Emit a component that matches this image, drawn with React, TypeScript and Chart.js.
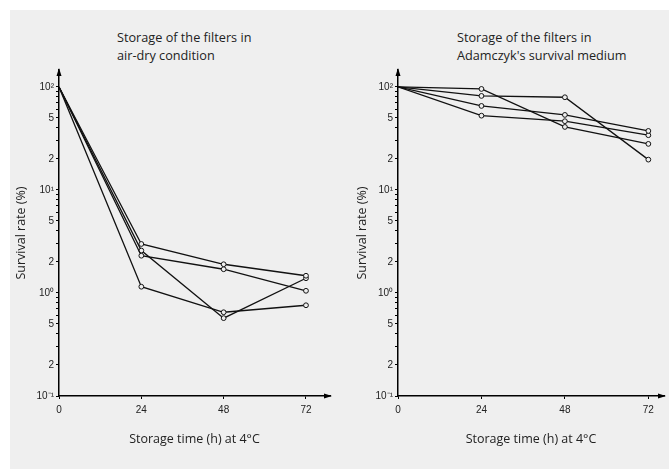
import React, { useEffect, useRef } from "react";
import { Chart, registerables } from "chart.js";

Chart.register(...registerables);

// ---- data ----
const HOURS = [0, 24, 48, 72];
const X_TICKS = [0, 24, 48, 72];

// Air-dry condition (survival rate %)
const AIR_DRY_1 = [100, 2.99, 1.9, 1.47];
const AIR_DRY_2 = [100, 2.3, 1.7, 1.05];
const AIR_DRY_3 = [100, 2.58, 0.57, 1.39];
const AIR_DRY_4 = [100, 1.15, 0.65, 0.76];

// Adamczyk's survival medium (survival rate %)
const MEDIUM_1 = [100, 95.6, 40.9, 28];
const MEDIUM_2 = [100, 81.8, 79.4, 19.7];
const MEDIUM_3 = [100, 65.4, 53.5, 37.4];
const MEDIUM_4 = [100, 52.6, 46.5, 34];

const Y_TICKS = [
  0.1, 0.2, 0.3, 0.4, 0.5, 0.6, 0.7, 0.8, 0.9,
  1, 2, 3, 4, 5, 6, 7, 8, 9,
  10, 20, 30, 40, 50, 60, 70, 80, 90,
  100,
];
const Y_LABEL_VALUES = [0.1, 0.2, 0.5, 1, 2, 5, 10, 20, 50, 100];
const Y_LABEL_TEXTS = ["10⁻¹", "2", "5", "10⁰", "2", "5", "10¹", "2", "5", "10²"];

const LEFT_TITLE = ["Storage of the filters in", "air-dry condition"];
const RIGHT_TITLE = ["Storage of the filters in", "Adamczyk's survival medium"];
const X_TITLE = "Storage time (h) at 4°C";
const Y_TITLE = "Survival rate (%)";

const BG = "#efefef";
const TEXT_FONT = "'Open Sans', 'Noto Sans', sans-serif";
const TICK_FONT = "'Liberation Sans', Arial, sans-serif";

const arrowPlugin = {
  id: "axisArrows",
  afterDraw(chart: any) {
    const { ctx, chartArea } = chart;
    const { left, top, right, bottom } = chartArea;
    ctx.save();
    ctx.fillStyle = "#000";
    ctx.beginPath();
    ctx.moveTo(left, top - 2);
    ctx.lineTo(left - 2.5, top + 6);
    ctx.lineTo(left + 2.5, top + 6);
    ctx.closePath();
    ctx.fill();
    ctx.beginPath();
    ctx.moveTo(right + 2, bottom);
    ctx.lineTo(right - 6, bottom - 2.5);
    ctx.lineTo(right - 6, bottom + 2.5);
    ctx.closePath();
    ctx.fill();
    ctx.restore();
  },
};

function makeDataset(values: number[]) {
  return {
    data: HOURS.map((h, i) => ({ x: h, y: values[i] })),
    borderColor: "#111",
    borderWidth: 1.3,
    pointRadius: HOURS.map((h) => (h === 0 ? 0 : 2.4)),
    pointBorderWidth: 1,
    pointBorderColor: "#111",
    pointBackgroundColor: BG,
    tension: 0,
    fill: false,
  };
}

function makeConfig(series: number[][], xMax: number, yTitlePad: number, rightPad: number): any {
  return {
    type: "line",
    data: { datasets: series.map(makeDataset) },
    plugins: [arrowPlugin],
    options: {
      animation: false,
      responsive: false,
      maintainAspectRatio: false,
      layout: { padding: { top: 70, right: rightPad, left: 0, bottom: 0 } },
      plugins: { legend: { display: false }, tooltip: { enabled: false }, title: { display: false } },
      scales: {
        x: {
          type: "linear",
          min: 0,
          max: xMax,
          afterBuildTicks: (scale: any) => {
            scale.ticks = X_TICKS.map((v) => ({ value: v }));
          },
          afterFit: (scale: any) => {
            scale.height = 73;
          },
          grid: { display: true, drawOnChartArea: false, drawTicks: true, tickLength: 3, color: "#000", lineWidth: 1 },
          border: { display: true, color: "#000", width: 1.5 },
          ticks: {
            autoSkip: false,
            maxRotation: 0,
            padding: 5,
            color: "#222",
            font: { family: TICK_FONT, size: 10 },
            callback: (v: any) => String(v),
          },
          title: {
            display: true,
            text: X_TITLE,
            color: "#222",
            font: { family: TEXT_FONT, size: 12.5 },
            padding: { top: 0, bottom: 22 },
          },
        },
        y: {
          type: "logarithmic",
          min: 0.1,
          max: 146,
          afterBuildTicks: (scale: any) => {
            scale.ticks = Y_TICKS.map((v) => ({ value: v }));
          },
          afterFit: (scale: any) => {
            scale.width = 59;
          },
          grid: { display: true, drawOnChartArea: false, drawTicks: true, tickLength: 3, color: "#000", lineWidth: 1 },
          border: { display: true, color: "#000", width: 1.5 },
          ticks: {
            autoSkip: false,
            padding: 2,
            color: "#222",
            font: { family: TICK_FONT, size: 10 },
            callback: (value: any) => {
              const v = Number(value);
              const i = Y_LABEL_VALUES.findIndex((t) => Math.abs(t - v) / t < 1e-6);
              return i >= 0 ? Y_LABEL_TEXTS[i] : "";
            },
          },
          title: {
            display: true,
            text: Y_TITLE,
            color: "#222",
            font: { family: TEXT_FONT, size: 12.5 },
            padding: { top: yTitlePad, bottom: 0 },
          },
        },
      },
    },
  };
}

function Panel(props: { series: number[][]; xMax: number; left: number; width: number; yTitlePad: number; rightPad: number }) {
  const ref = useRef<HTMLCanvasElement | null>(null);
  useEffect(() => {
    if (!ref.current) return;
    const chart = new Chart(ref.current, makeConfig(props.series, props.xMax, props.yTitlePad, props.rightPad));
    return () => chart.destroy();
  }, []);
  return (
    <canvas
      ref={ref}
      width={props.width}
      height={469}
      style={{ position: "absolute", left: props.left, top: 0, width: props.width, height: 469 }}
    />
  );
}

function Title(props: { lines: string[]; left: number }) {
  return (
    <div
      style={{
        position: "absolute",
        left: props.left,
        top: 28,
        fontFamily: TEXT_FONT,
        fontSize: 12.7,
        lineHeight: "18px",
        color: "#222",
        whiteSpace: "nowrap",
      }}
    >
      {props.lines.map((l, i) => (
        <div key={i}>{l}</div>
      ))}
    </div>
  );
}

export default function App() {
  return (
    <div style={{ position: "absolute", left: 0, top: 0, width: 669, height: 469, overflow: "hidden", background: "#fff" }}>
      <div style={{ position: "absolute", left: 10, top: 10, width: 659, height: 459, background: BG }} />
      <Title lines={LEFT_TITLE} left={117} />
      <Title lines={RIGHT_TITLE} left={457} />
      <Panel series={[AIR_DRY_1, AIR_DRY_2, AIR_DRY_3, AIR_DRY_4]} xMax={79} left={0} width={335} yTitlePad={14} rightPad={3} />
      <Panel series={[MEDIUM_1, MEDIUM_2, MEDIUM_3, MEDIUM_4]} xMax={76.5} left={339} width={330} yTitlePad={16} rightPad={1} />
    </div>
  );
}
